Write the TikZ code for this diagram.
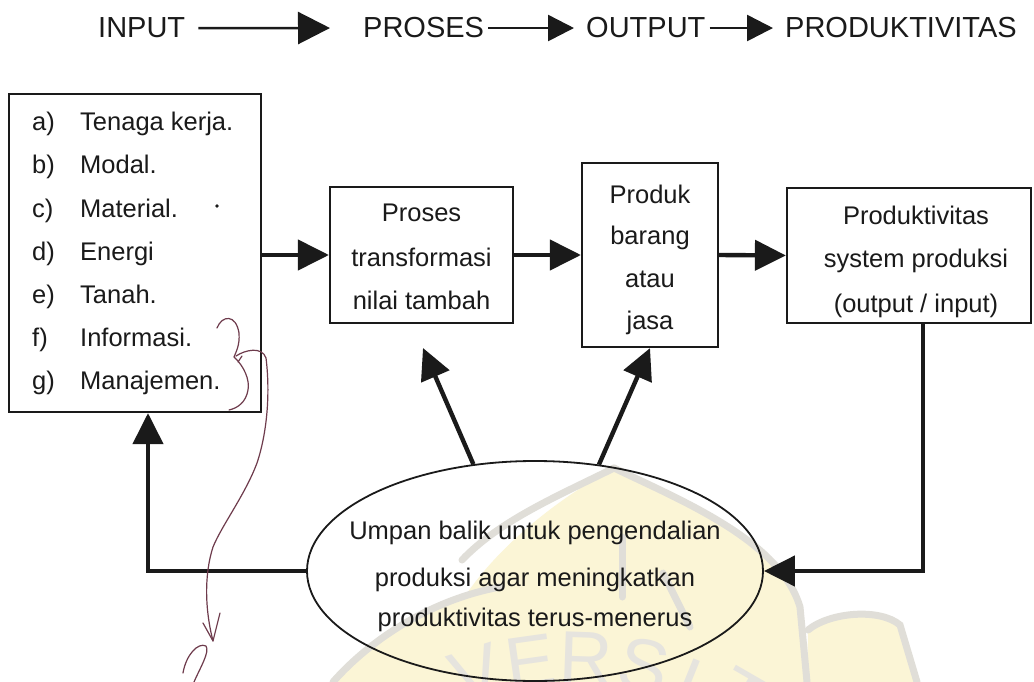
\documentclass[tikz,border=0pt]{standalone}
\usepackage{fontspec}
\setmainfont{Liberation Sans}
\usetikzlibrary{arrows.meta,shapes.geometric}

\definecolor{ink}{HTML}{1A1A1A}
\definecolor{pen}{HTML}{6E3B4C}
\definecolor{wmline}{HTML}{E0DED8}
\definecolor{wmtext}{HTML}{E6E4DE}
\definecolor{wmfill}{HTML}{FBF5D6}

\tikzset{
  box/.style={draw=ink,line width=2.2pt,inner sep=0pt},
  body/.style={text=ink,inner sep=0pt,font=\fontsize{25.5}{43}\selectfont},
  head/.style={text=ink,inner sep=0pt,font=\fontsize{29}{30}\selectfont},
  bigarrow/.style={draw=ink,line width=4.4pt,-{Triangle[length=31pt,width=30pt]}},
  toparrow/.style={draw=ink,line width=2.6pt,-{Triangle[length=#1,width=#1]}},
  toparrow/.default=26pt,
  wmband/.style={draw=wmline,line width=7pt,line cap=round},
  wmletter/.style={text=wmtext,font=\fontsize{74}{80}\selectfont,inner sep=0pt},
  penline/.style={draw=pen,line width=1.2pt,line cap=round,line join=round}
}

\begin{document}
\begin{tikzpicture}[x=1pt,y=-1pt]
\useasboundingbox[fill=white] (0,0) rectangle (1034,682);

% faint background emblem
\begin{scope}
  \fill[wmfill] (614,468) .. controls (680,500) and (780,540) .. (800,607)
      -- (807,682) -- (430,682) .. controls (440,600) and (520,520) .. cycle;
  \fill[wmfill] (808,630) .. controls (830,612) and (880,608) .. (900,625)
      -- (917,682) -- (807,682) -- cycle;
  \fill[wmfill] (333,682) .. controls (370,640) and (430,600) .. (500,587) -- (520,682) -- cycle;
  \draw[wmband] (614,468) .. controls (680,500) and (780,540) .. (800,607) -- (807,682);
  \draw[wmband] (614,468) .. controls (560,495) and (500,520) .. (462,560);
  \draw[wmband] (808,630) .. controls (830,612) and (880,608) .. (900,625) -- (917,682);
  \draw[wmband] (333,682) .. controls (370,640) and (430,600) .. (500,587);
  \draw[wmband] (622,537) -- (622,597);
  \draw[wmband] (663,573) -- (690,627);
  \node[wmletter,rotate=18]  (wmV) at (476,674) {V};
  \node[wmletter,rotate=8]   (wmE) at (530,662) {E};
  \node[wmletter,rotate=-2]  (wmR) at (586,658) {R};
  \node[wmletter,rotate=-12] (wmS) at (644,666) {S};
  \node[wmletter,rotate=-22] (wmI) at (688,684) {I};
  \node[wmletter,rotate=-30] (wmT) at (742,698) {T};
\end{scope}

% top chain
\node[head,anchor=base west] (tin)   at (98,38) {INPUT};
\node[head,anchor=base west] (tpro)  at (363,38) {PROSES};
\node[head,anchor=base west] (tout)  at (586,38) {OUTPUT};
\node[head,anchor=base west] (tprod) at (785,38) {PRODUKTIVITAS};
\draw[toparrow=32pt] ([xshift=13pt]tin.east) -- ([xshift=-33pt]tpro.west);
\draw[toparrow] ([xshift=4pt]tpro.east) -- ([xshift=-12pt]tout.west);
\draw[toparrow] ([xshift=4pt]tout.east) -- ([xshift=-12pt]tprod.west);

% boxes
\node[box,minimum width=252pt,minimum height=318pt] (inbox) at (135,253) {};
\node[box,minimum width=183pt,minimum height=136pt] (proses) at (421.5,255) {};
\node[box,minimum width=136pt,minimum height=184pt] (produk) at (650,255) {};
\node[box,minimum width=244pt,minimum height=135pt] (prod) at (909,255.5) {};

% input list
\foreach \lab/\item [count=\i] in {a)/Tenaga kerja., b)/Modal., c)/Material.,
    d)/Energi, e)/Tanah., f)/Informasi., g)/Manajemen.}{
  \node[body,anchor=base west] (lab\i) at (32,{122+43*(\i-1)+9}) {\lab};
  \node[body,anchor=base west] (item\i) at (80,{122+43*(\i-1)+9}) {\item};
}
\fill[ink] (217,206) circle (1.8pt);

% box texts
\node[body,anchor=base] (p1) at (421.5,222) {Proses};
\node[body,anchor=base] (p2) at (421.5,266) {transformasi};
\node[body,anchor=base] (p3) at (421.5,309) {nilai tambah};

\node[body,anchor=base] (q1) at (650,204) {Produk};
\node[body,anchor=base] (q2) at (650,244) {barang};
\node[body,anchor=base] (q3) at (650,287) {atau};
\node[body,anchor=base] (q4) at (650,329) {jasa};

\node[body,anchor=base] (r1) at (916,224) {Produktivitas};
\node[body,anchor=base] (r2) at (916,267) {system produksi};
\node[body,anchor=base] (r3) at (916,312) {(output / input)};

% feedback ellipse
\node[ellipse,draw=ink,line width=1.8pt,minimum width=456pt,minimum height=220pt,inner sep=0pt] (fb) at (535,571) {};
\node[body,anchor=base] (f1) at (535,539) {Umpan balik untuk pengendalian};
\node[body,anchor=base] (f2) at (535,586) {produksi agar meningkatkan};
\node[body,anchor=base] (f3) at (535,626) {produktivitas terus-menerus};

% flow connectors
\draw[bigarrow] (inbox.east |- proses.west) -- (proses.west);
\draw[bigarrow] (proses.east) -- (produk.west);
\draw[bigarrow] (produk.east) -- (prod.west);

\coordinate (ptip) at (423,348);
\draw[bigarrow] (fb.120.7) -- (ptip);
\draw[bigarrow] (fb.59) -- (produk.south);

\coordinate (lcorner) at (148,571);
\draw[bigarrow] (fb.west) -- (lcorner) -- (lcorner |- inbox.south);

\coordinate (rcorner) at (923,571);
\draw[bigarrow] (rcorner |- prod.south) -- (rcorner) -- (fb.east);

% handwritten pen marks
\draw[penline] (217,328) .. controls (222,315) and (236,314) .. (239,333)
  .. controls (240,345) and (236,352) .. (234,357)
  .. controls (244,366) and (250,380) .. (248,390)
  .. controls (246,402) and (238,408) .. (229,410);
\draw[penline] (236,356) .. controls (245,350) and (262,346) .. (266,358)
  .. controls (270,390) and (268,430) .. (257,463)
  .. controls (245,495) and (222,525) .. (213,547)
  .. controls (204,575) and (205,610) .. (213,641);
\draw[penline] (203,623) -- (213,641) -- (220,613);
\draw[penline] (183,673) .. controls (186,655) and (198,642) .. (206,646)
  .. controls (210,652) and (200,668) .. (194,682);
\draw[penline] (238,362) -- (242,356);
\end{tikzpicture}
\end{document}
